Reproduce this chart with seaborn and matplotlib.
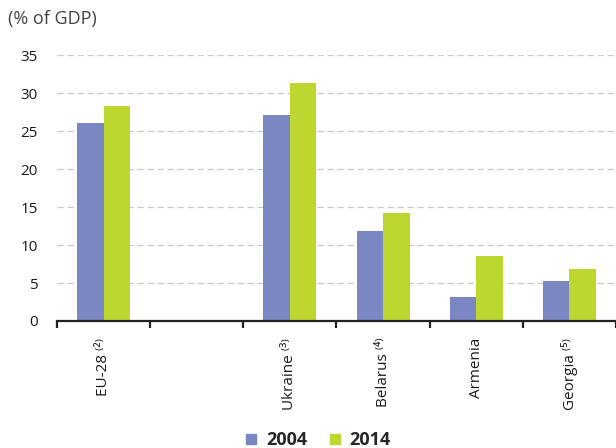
import matplotlib
matplotlib.use("Agg")
import matplotlib.pyplot as plt
import seaborn as sns
import pandas as pd

# data (% of GDP)
countries = ["EU-28 ⁽²⁾", " ", "Ukraine ⁽³⁾", "Belarus ⁽⁴⁾", "Armenia", "Georgia ⁽⁵⁾"]
bar_countries = ["EU-28 ⁽²⁾", "Ukraine ⁽³⁾", "Belarus ⁽⁴⁾", "Armenia", "Georgia ⁽⁵⁾"]
values_2004 = [26.1, 27.1, 11.9, 3.1, 5.3]
values_2014 = [28.3, 31.3, 14.25, 8.6, 6.9]
years = ["2004", "2014"]
y_ticks = [0, 5, 10, 15, 20, 25, 30, 35]
colors = ["#7b87c2", "#bdd630"]

df = pd.DataFrame({
    "country": bar_countries * 2,
    "year": [years[0]] * len(bar_countries) + [years[1]] * len(bar_countries),
    "value": values_2004 + values_2014,
})

sns.set_style("white")
plt.rcParams["font.family"] = ["Open Sans", "DejaVu Sans"]

fig = plt.figure(figsize=(6.16, 4.48), dpi=100)
ax = fig.add_axes([0.0925, 0.2835, 0.9075, 0.5935])

sns.barplot(
    data=df, x="country", y="value", hue="year", order=countries,
    hue_order=years, palette=colors, saturation=1,
    width=0.57, linewidth=0, ax=ax, legend=False,
)

ax.set_ylim(0, 35)
ax.set_xlim(-0.5, 5.42)
ax.set_yticks(y_ticks)
ax.set_xlabel("")
ax.set_ylabel("")

# dashed horizontal grid
ax.yaxis.grid(True, linestyle=(0, (5, 3)), color="#c8c8c8", linewidth=0.9)
ax.set_axisbelow(True)

for side in ["top", "right", "left"]:
    ax.spines[side].set_visible(False)
ax.spines["bottom"].set_color("#222222")
ax.spines["bottom"].set_linewidth(1.6)

ax.tick_params(axis="y", length=0, pad=14, labelsize=11, labelcolor="#1a1a1a")
ax.tick_params(axis="x", which="major", length=0, pad=12, labelsize=11,
               labelcolor="#1a1a1a")
ax.set_xticks([i - 0.5 for i in range(len(countries) + 1)], minor=True)
ax.tick_params(axis="x", which="minor", bottom=True, length=5, width=1.6,
               color="#222222", direction="out")
for lbl in ax.get_xticklabels():
    lbl.set_rotation(90)
    lbl.set_va("top")
    lbl.set_ha("center")

fig.text(0.013, 0.958, "(% of GDP)", fontsize=13, color="#444444",
         ha="left", va="center")

handles = [plt.Rectangle((0, 0), 1, 1, color=c) for c in colors]
fig.legend(handles, years, loc="center", bbox_to_anchor=(0.517, 0.017),
           ncol=2, frameon=False, handlelength=0.55, handleheight=0.55,
           handletextpad=0.55, columnspacing=1.25,
           prop={"weight": "bold", "size": 13})

fig.savefig("out.png", dpi=100)
